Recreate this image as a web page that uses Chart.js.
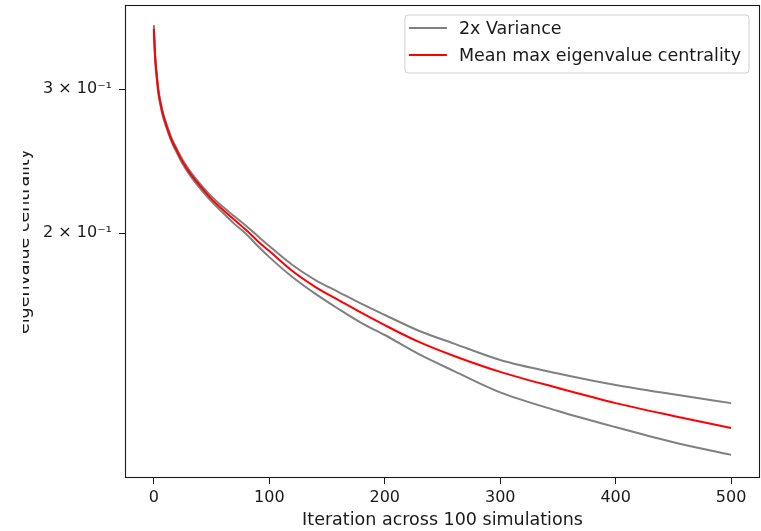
<!DOCTYPE html>
<html><head><meta charset="utf-8">
<script src="https://cdn.jsdelivr.net/npm/chart.js@4/dist/chart.umd.min.js"></script>
<style>html,body{margin:0;padding:0;background:#fff;overflow:hidden}</style>
</head><body>
<canvas id="c" width="761" height="531"></canvas>
<script>
// ---- data ----
const iterations = [0,1,2,4,6,8,11,15,20,25,30,37,48,60,70,80,90,100,120,140,160,180,200,230,260,300,350,400,450,500];
const meanCentrality = [0.3552,0.3302,0.3165,0.2975,0.2868,0.2788,0.2703,0.2606,0.2519,0.2443,0.2381,0.2311,0.2216,0.2134,0.2075,0.2017,0.1955,0.1901,0.1797,0.1718,0.1656,0.1597,0.1543,0.1471,0.1415,0.1353,0.1293,0.1239,0.1195,0.1155];
const upperVariance = [0.3592,0.3330,0.3183,0.2992,0.2884,0.2804,0.2718,0.2621,0.2534,0.2456,0.2395,0.2325,0.2232,0.2152,0.2095,0.2040,0.1983,0.1928,0.1828,0.1752,0.1694,0.1638,0.1588,0.1518,0.1465,0.1399,0.1347,0.1304,0.1270,0.1239];
const lowerVariance = [0.3532,0.3274,0.3147,0.2958,0.2852,0.2773,0.2688,0.2592,0.2505,0.2429,0.2368,0.2296,0.2201,0.2116,0.2051,0.1994,0.1928,0.1869,0.1767,0.1685,0.1615,0.1552,0.1501,0.1421,0.1356,0.1277,0.1212,0.1158,0.1110,0.1071];
const xTickValues = [0,100,200,300,400,500];
const yTickValues = [0.2,0.3];
const yTickLabels = ['2 × 10⁻¹','3 × 10⁻¹'];
const legendLabels = ['2x Variance','Mean max eigenvalue centrality'];
const xAxisTitle = 'Iteration across 100 simulations';
const yAxisTitle = 'eigenvalue centrality';
const xRange = [-25,525];
const yRange = [0.10035,0.3801];

// ---- styling ----
const FONT = 'DejaVu Sans';
const GREY = '#808080', RED = '#ff0000', INK = '#1a1a1a';
Chart.defaults.font.family = FONT;
Chart.defaults.color = INK;

const pts = (ys) => iterations.map((x,i)=>({x:x,y:ys[i]}));

const framePlugin = {
  id:'frame',
  afterDraw(chart){
    const {ctx, chartArea:a} = chart;
    ctx.save();
    ctx.strokeStyle = INK; ctx.lineWidth = 1.1;
    ctx.strokeRect(a.left+0.5, a.top+0.5, a.right-a.left-1, a.bottom-a.top-1);
    ctx.restore();
  }
};

const yTitlePlugin = {
  id:'ytitle',
  afterDraw(chart){
    const {ctx, chartArea:a} = chart;
    ctx.save();
    ctx.beginPath(); ctx.rect(23,0,chart.width,chart.height); ctx.clip();
    ctx.translate(28.5,(a.top+a.bottom)/2);
    ctx.rotate(-Math.PI/2);
    ctx.font = '17.5px "'+FONT+'"';
    ctx.fillStyle = INK; ctx.textAlign='center'; ctx.textBaseline='alphabetic';
    ctx.fillText(yAxisTitle,0,0);
    ctx.restore();
  }
};

const legendPlugin = {
  id:'mplLegend',
  afterDraw(chart){
    const {ctx, chartArea:a} = chart;
    ctx.save();
    ctx.font = '17.5px "'+FONT+'"';
    const tw = Math.max(...legendLabels.map(t=>ctx.measureText(t).width));
    const lineLen = 38, padL = 4, gap = 12, padR = 8, rowH = 27;
    const w = padL + lineLen + gap + tw + padR;
    const h = 58;
    const right = a.right - 11, top = a.top + 10, left = right - w;
    ctx.beginPath();
    ctx.roundRect(left, top, w, h, 3);
    ctx.fillStyle = 'rgba(255,255,255,0.85)'; ctx.fill();
    ctx.strokeStyle = '#d0d0d0'; ctx.lineWidth = 1; ctx.stroke();
    const colors = [GREY, RED];
    legendLabels.forEach((t,i)=>{
      const y = top + 13 + i*rowH;
      ctx.beginPath(); ctx.moveTo(left+padL, y); ctx.lineTo(left+padL+lineLen, y);
      ctx.strokeStyle = colors[i]; ctx.lineWidth = 2; ctx.stroke();
      ctx.fillStyle = INK; ctx.textAlign='left'; ctx.textBaseline='middle';
      ctx.fillText(t, left+padL+lineLen+gap, y+1);
    });
    ctx.restore();
  }
};

new Chart(document.getElementById('c'), {
  type:'line',
  data:{ datasets:[
    {label:legendLabels[0], data:pts(upperVariance), borderColor:GREY, borderWidth:2, pointRadius:0, order:1, cubicInterpolationMode:'monotone'},
    {label:legendLabels[0], data:pts(lowerVariance), borderColor:GREY, borderWidth:2, pointRadius:0, order:1, cubicInterpolationMode:'monotone'},
    {label:legendLabels[1], data:pts(meanCentrality), borderColor:RED, borderWidth:2, pointRadius:0, order:0, cubicInterpolationMode:'monotone'}
  ]},
  options:{
    responsive:false, animation:false, devicePixelRatio:1,
    layout:{padding:{left:0,right:1,top:5,bottom:0}},
    plugins:{legend:{display:false}, tooltip:{enabled:false}},
    scales:{
      x:{
        type:'linear', min:xRange[0], max:xRange[1],
        afterBuildTicks:(s)=>{ s.ticks = xTickValues.map(v=>({value:v})); },
        afterFit:(s)=>{ s.height = 53; s.paddingLeft = 0; s.paddingRight = 0; },
        ticks:{font:{size:16}, color:INK, padding:4, maxRotation:0, callback:(v)=>String(v)},
        grid:{display:true, drawOnChartArea:false, drawTicks:true, tickLength:6, color:INK, lineWidth:1},
        border:{display:false},
        title:{display:true, text:xAxisTitle, font:{size:17.5}, color:INK, padding:{top:0,bottom:0}}
      },
      y:{
        type:'logarithmic', min:yRange[0], max:yRange[1],
        afterBuildTicks:(s)=>{ s.ticks = yTickValues.map(v=>({value:v})); },
        afterFit:(s)=>{ s.width = 125; s.paddingTop = 0; s.paddingBottom = 0; },
        ticks:{font:{size:16}, color:INK, padding:7, callback:(v,i)=>yTickLabels[i]},
        grid:{display:true, drawOnChartArea:false, drawTicks:true, tickLength:6, color:INK, lineWidth:1},
        border:{display:false}
      }
    }
  },
  plugins:[framePlugin, yTitlePlugin, legendPlugin]
});
</script>
</body></html>
